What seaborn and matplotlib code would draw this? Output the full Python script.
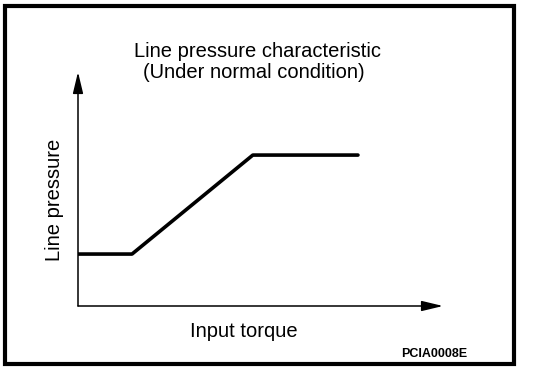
import matplotlib
matplotlib.use("Agg")
import matplotlib.pyplot as plt
import seaborn as sns
import pandas as pd
from matplotlib.patches import Rectangle

# Data (arbitrary units)
input_torque = [0.0, 14.8, 47.9, 76.7]
line_pressure = [22.2, 22.2, 64.5, 64.5]

title_lines = ["Line pressure characteristic", "(Under normal condition)"]
x_label = "Input torque"
y_label = "Line pressure"
code_label = "PCIA0008E"

sns.set_theme(style="white")
plt.rcParams["font.family"] = ["Liberation Sans", "DejaVu Sans"]

W, H = 544, 372
fig = plt.figure(figsize=(W / 100, H / 100), dpi=100)

# Frame around the whole figure
fig.patches.append(Rectangle((5 / W, 1 - 364 / H), 509 / W, 358 / H,
                             transform=fig.transFigure, fill=False,
                             edgecolor="black", linewidth=3.0))

# Axes: y-axis at x=78 px, x-axis at y=306 px, arrow tips at x=443, y=72
ax_left, ax_right = 78, 443
ax_top, ax_bottom = 72, 306
ax = fig.add_axes([ax_left / W, 1 - ax_bottom / H,
                   (ax_right - ax_left) / W, (ax_bottom - ax_top) / H])
ax.set_xlim(0, 100)
ax.set_ylim(0, 100)
ax.patch.set_alpha(0)
for s in ax.spines.values():
    s.set_visible(False)
ax.set_xticks([])
ax.set_yticks([])

df = pd.DataFrame({"torque": input_torque, "pressure": line_pressure})
sns.lineplot(data=df, x="torque", y="pressure", ax=ax, color="black",
             linewidth=2.6, sort=False, estimator=None)
ax.set_xlabel("")
ax.set_ylabel("")

arrow = dict(arrowstyle="-|>,head_length=1.0,head_width=0.24",
             mutation_scale=13, color="black", linewidth=1.1,
             shrinkA=0, shrinkB=0)
ax.annotate("", xy=(1, 0), xytext=(0, 0), xycoords="axes fraction",
            textcoords="axes fraction", arrowprops=arrow, annotation_clip=False)
ax.annotate("", xy=(0, 1), xytext=(0, 0), xycoords="axes fraction",
            textcoords="axes fraction", arrowprops=arrow, annotation_clip=False)

fs = 14.5
fig.text(258 / W, 1 - 57 / H, title_lines[0], ha="center", va="baseline",
         fontsize=fs, color="black")
fig.text(254 / W, 1 - 78 / H, title_lines[1], ha="center", va="baseline",
         fontsize=fs, color="black")
fig.text(55 / W, 1 - 200 / H, y_label, ha="center", va="center",
         rotation=90, fontsize=fs, color="black")
fig.text(244 / W, 1 - 337 / H, x_label, ha="center", va="baseline",
         fontsize=fs, color="black")
fig.text(434 / W, 1 - 357 / H, code_label, ha="center", va="baseline",
         fontsize=9, fontweight="bold", color="black")

fig.savefig("out.png", dpi=100, facecolor="white")
